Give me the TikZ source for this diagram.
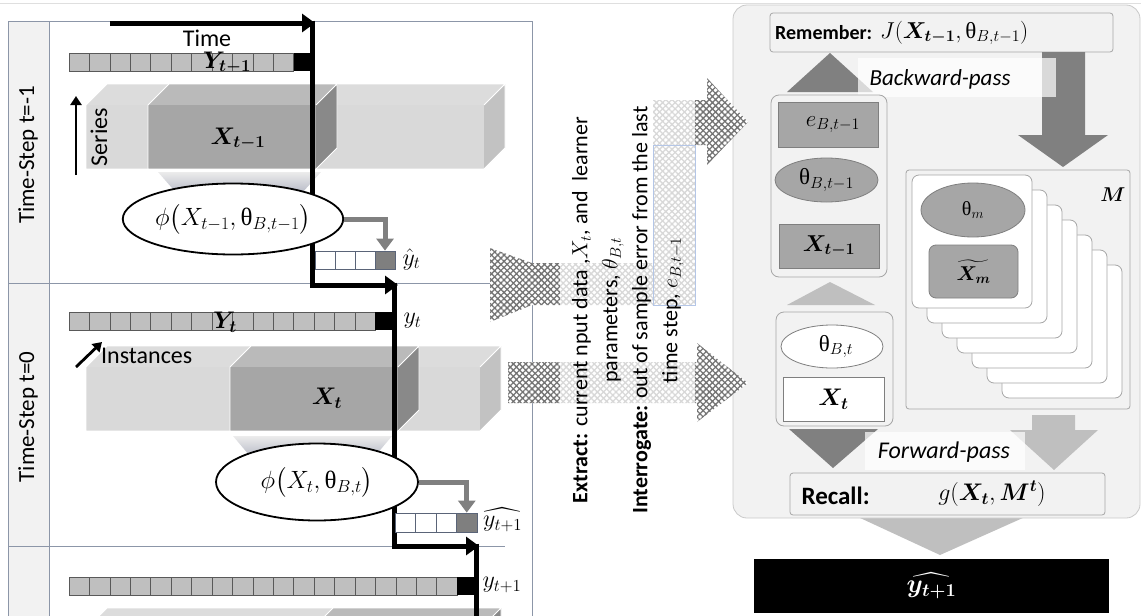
\RequirePackage{fix-cm}
\documentclass[tikz,border=0pt]{standalone}
\usepackage{amsmath,bm}
\usepackage{fontspec}
\setmainfont{Carlito}
\newfontfamily\grkfont{Liberation Serif}
\usetikzlibrary{arrows.meta,shapes.geometric,patterns.meta}

\definecolor{framec}{HTML}{8C96A8}
\definecolor{labelcol}{HTML}{F2F2F2}
\definecolor{cellg}{HTML}{BFBFBF}
\definecolor{cellb}{HTML}{595959}
\definecolor{hatcell}{HTML}{7F7F7F}
\definecolor{hatb}{HTML}{5A6478}
\definecolor{lfront}{HTML}{D9D9D9}
\definecolor{ltop}{HTML}{DCDCDC}
\definecolor{lside}{HTML}{C2C2C2}
\definecolor{dfront}{HTML}{A6A6A6}
\definecolor{dtop}{HTML}{BABABA}
\definecolor{dside}{HTML}{898989}
\definecolor{arrg}{HTML}{808080}
\definecolor{lightarr}{HTML}{BFBFBF}
\definecolor{panelf}{HTML}{F2F2F2}
\definecolor{panelb}{HTML}{C9C9C9}
\definecolor{boxb}{HTML}{A6A6A6}
\definecolor{itemf}{HTML}{A6A6A6}
\definecolor{itemb}{HTML}{7F7F7F}
\definecolor{hatchc}{HTML}{747474}
\definecolor{bluebord}{HTML}{B4C6E7}
\definecolor{shadebot}{HTML}{9A9FB2}

% upright theta as in the formulas
\newcommand{\thup}{\text{\grkfont θ}}
% font size shorthand
\newcommand{\setfs}[1]{\fontsize{#1}{#1}\selectfont}

% a long prism: x1, x2, ytop, ybot, front colour, top colour, side colour
\newcommand{\drawprism}[7]{%
  \fill[#6] (#1,#3) -- (#1+21,#3-21) -- (#2+21,#3-21) -- (#2,#3) -- cycle;
  \fill[#7] (#2,#3) -- (#2+21,#3-21) -- (#2+21,#4-21) -- (#2,#4) -- cycle;
  \fill[#5] (#1,#3) rectangle (#2,#4);
  \draw[white, line width=0.8pt, line join=round]
    (#1,#4) -- (#1,#3) -- (#1+21,#3-21) -- (#2+21,#3-21) -- (#2+21,#4-21) -- (#2,#4) -- cycle
    (#2,#3) -- (#2+21,#3-21);
}

% a series bar: x0, ytop, number of grey cells, end of the black cell
\newcommand{\seriesbar}[4]{%
  \foreach \i in {1,...,#3}
    \draw[ycell] ({#1+(\i-1)*20.43},#2) rectangle ++(20.43,18);
  \fill[black] ({#1+#3*20.43},#2) rectangle (#4,#2+18);
}

\tikzset{
  ycell/.style={draw=cellb, fill=cellg, line width=0.6pt},
  predcell/.style={draw=hatb, fill=white, line width=0.6pt},
  timeline/.style={line width=5pt, line join=miter, -{Triangle[length=13pt,width=18pt]}},
  garrow/.style={draw=arrg, line width=5pt, -{Triangle[length=12pt,width=17pt]}},
  thinarrow/.style={line width=2.8pt, -{Triangle[length=9pt,width=11pt]}},
  phiell/.style={ellipse, draw=black, line width=1.8pt, fill=white, inner sep=0pt, font=\setfs{25}},
  hatchfill/.style={preaction={fill=white},
    pattern={Hatch[angle=45,distance=4.4pt,line width=1.3pt]}, pattern color=hatchc},
  pbox/.style={draw=boxb, fill=panelf, line width=0.8pt, rounded corners=3pt},
  container/.style={draw=boxb, fill=panelf, line width=0.8pt, rounded corners=8pt},
  itembox/.style={draw=itemb, fill=itemf, line width=0.8pt, font=\setfs{23}},
  itemell/.style={ellipse, draw=itemb, fill=itemf, line width=0.8pt, inner sep=0pt, font=\setfs{23}},
  card/.style={draw=boxb, fill=white, line width=0.8pt, rounded corners=7pt},
  passlabel/.style={fill=white, fill opacity=0.7},
  passtext/.style={font=\setfs{23}\itshape},
  leftmath/.style={font=\setfs{24}},
  lefttext/.style={font=\setfs{24}},
}

\begin{document}
\begin{tikzpicture}[x=1pt, y=-1pt, font=\setfs{20}]
\useasboundingbox (0,0) rectangle (1141,616);
\begin{scope}
\clip (0,0) rectangle (1141,616);

% page rule
\draw[gray!25, line width=0.8pt] (0,3) -- (1141,3);

% ---------------- left panel: time steps ----------------
\fill[labelcol] (8,21) rectangle (49,620);
\draw[framec, line width=0.8pt] (8,620) -- (8,21) -- (532,21) -- (532,620);
\draw[framec, line width=0.8pt] (49,21) -- (49,620);
\draw[framec, line width=0.8pt] (8,283) -- (532,283);
\draw[framec, line width=0.8pt] (8,546) -- (505,546);

\node[rotate=90, font=\setfs{23}] (lab1) at (28,155) {Time-Step t=-1};
\node[rotate=90, font=\setfs{23}] (lab0) at (28,417) {Time-Step t=0};

% row t-1
\node[lefttext] (timelab) at (207,38) {Time};
\seriesbar{69}{53}{11}{313}
\node[leftmath] (Ytm1) at (227,63) {$\bm{Y}_{\bm{t-1}}$};
\drawprism{86}{484}{105}{169}{lfront}{ltop}{lside}
\drawprism{148}{316}{105}{169}{dfront}{dtop}{dside}
\node[leftmath] (Xtm1) at (238,139) {$\bm{X}_{\bm{t-1}}$};
\coordinate (serA) at (76,175);
\coordinate (serB) at (76,96);
\draw[thinarrow] (serA) -- (serB);
\node[rotate=90, lefttext] (serlab) at (99,137) {Series};
\shade[top color=gray!15, bottom color=shadebot] (158,172) -- (321,172) -- (292,204) -- (186,204) -- cycle;

% row t
\seriesbar{69}{312}{15}{394}
\node[leftmath] (Yt) at (225,322) {$\bm{Y}_{\bm{t}}$};
\node[anchor=west, leftmath] (ytl) at (400,321) {$y_t$};
\drawprism{86}{480}{367}{431}{lfront}{ltop}{lside}
\drawprism{230}{398}{367}{431}{dfront}{dtop}{dside}
\node[leftmath] (Xt) at (327,398) {$\bm{X}_{\bm{t}}$};
\coordinate (insA) at (76,367);
\coordinate (insB) at (102,342);
\draw[thinarrow] (insA) -- (insB);
\node[anchor=west, inner sep=0pt, lefttext] (inslab) at (101,356) {Instances};
\shade[top color=gray!15, bottom color=shadebot] (233,436) -- (392,436) -- (365,468) -- (260,468) -- cycle;

% row t+1
\seriesbar{69}{577}{19}{478}
\node[anchor=west, leftmath] (yt1l) at (479,585) {$y_{t+1}$};
\drawprism{86}{480}{629}{693}{lfront}{ltop}{lside}
\drawprism{312}{480}{629}{693}{dfront}{dtop}{dside}

% the time staircase
\coordinate (s0) at (110,23);
\coordinate (s1) at (315,23);
\coordinate (s2) at (312.5,20.5);
\coordinate (s3) at (312.5,285);
\coordinate (s4) at (398,285);
\coordinate (s5) at (394,282.5);
\coordinate (s6) at (394,546);
\coordinate (s7) at (479,546);
\coordinate (s8) at (476.5,543.5);
\coordinate (s9) at (476.5,625);
\draw[timeline] (s0) -- (s1);
\draw[timeline] (s2) -- (s3) -- (s4);
\draw[timeline] (s5) -- (s6) -- (s7);
\draw[line width=5pt] (s8) -- (s9);

% learners and their predictions
\node[phiell, minimum width=200pt, minimum height=71pt] (phiA) at (233,219)
  {$\phi\bigl(X_{t-1},\thup_{B,t-1}\bigr)$};
\foreach \i in {0,1,2} \draw[predcell] (315+\i*20,251) rectangle ++(20,18);
\node[draw=hatb, fill=hatcell, line width=0.8pt, minimum width=20pt, minimum height=18pt, inner sep=0pt] (hatA) at (385,260) {};
\node[anchor=west, leftmath] (yhatA) at (399,259) {$\hat{y}_t$};
\draw[garrow] (phiA.east) -| (hatA.north);

\node[phiell, minimum width=202pt, minimum height=77pt] (phiB) at (317,482)
  {$\phi\bigl(X_{t},\thup_{B,t}\bigr)$};
\foreach \i in {0,1,2} \draw[predcell] (395+\i*20.5,513) rectangle ++(20.5,19);
\node[draw=hatb, fill=hatcell, line width=0.8pt, minimum width=20.5pt, minimum height=19pt, inner sep=0pt] (hatB) at (466.75,522.5) {};
\node[anchor=west, leftmath, inner sep=1pt] (yhatB) at (482,520) {$\widehat{y_{t+1}}$};
\draw[garrow] (phiB.east) -| (hatB.north);

% ---------------- right panel: memory ----------------
\fill[lightarr] (858,517) -- (1025,517) -- (940,555) -- cycle;
\node[draw=panelb, fill=panelf, line width=0.8pt, rounded corners=14pt,
      minimum width=407pt, minimum height=513pt] (panel) at (936.5,261.5) {};

\node[pbox, minimum width=343pt, minimum height=39pt] (rem) at (941.5,32.5) {};
\node[anchor=west, inner sep=0pt, font=\setfs{20}] (remtxt) at (775,33) {\textbf{Remember:}};
\node[anchor=west, inner sep=0pt, font=\setfs{23}] (remmath) at (880,33) {$J(\bm{X}_{\bm{t-1}},\thup_{B,t-1})$};

% backward pass arrows
\fill[arrg] (787,92) -- (873,92) -- (830,53) -- cycle;
\fill[arrg] (1042,52) -- (1085,52) -- (1085,135) -- (1108,135) -- (1063,167)
  -- (1018,135) -- (1042,135) -- cycle;
\node[passlabel, minimum width=198pt, minimum height=39pt] (bwd) at (957,77.5) {};
\node[passtext] (bwdtxt) at (940,79) {Backward-pass};

% previous step contents
\node[container, minimum width=116pt, minimum height=182pt] (prev) at (829,186) {};
\node[itembox, minimum width=100pt, minimum height=45pt] (ebox) at (828,124.5) {\hspace{10pt}$e_{B,t-1}$};
\node[itemell, minimum width=103pt, minimum height=44pt] (thprev) at (826.5,180) {$\thup_{B,t-1}$};
\node[itembox, minimum width=100pt, minimum height=44pt] (xprev) at (829,246) {$\bm{X}_{\bm{t-1}}$};

\fill[lightarr] (787,305) -- (875,305) -- (830,282) -- cycle;

% current step contents
\node[container, minimum width=117pt, minimum height=114pt] (curr) at (834.5,369) {};
\node[ellipse, draw=itemb, fill=white, line width=0.8pt, inner sep=0pt, font=\setfs{23},
      minimum width=102pt, minimum height=43pt] (thcur) at (832,346.5) {\hspace{8pt}$\thup_{B,t}$};
\node[draw=itemb, fill=white, line width=0.8pt, minimum width=101pt, minimum height=44pt, font=\setfs{24}] (xcur) at (833.5,399) {$\bm{X}_{\bm{t}}$};

% memory of past learners
\node[pbox, minimum width=224pt, minimum height=239pt] (mem) at (1018,289.5) {};
\node (Mlab) at (1113,195) {$\bm{M}$};
\foreach \i in {6,5,...,1}
  \draw[card] (912+15*\i,175+15*\i) rectangle ++(120,133);
\node[card, minimum width=120pt, minimum height=133pt] (card0) at (972,241.5) {};
\node[itemell, minimum width=104pt, minimum height=54pt, font=\setfs{20}] (thm) at (973,210) {$\thup_{m}$};
\node[itembox, rounded corners=7pt, minimum width=89pt, minimum height=53pt, font=\setfs{20}] (xm) at (973.5,271.5)
  {$\widetilde{\bm{X}_{\bm{m}}}$};

% forward pass arrows
\fill[arrg] (789,429) -- (878,429) -- (833,468) -- cycle;
\fill[lightarr] (1032,415) -- (1075,415) -- (1075,430) -- (1098,430) -- (1054,470)
  -- (1010,430) -- (1032,430) -- cycle;
\node[passlabel, minimum width=160pt, minimum height=38pt] (fwd) at (945,451) {};
\node[passtext, font=\setfs{24}\itshape] (fwdtxt) at (944,452) {Forward-pass};

\node[pbox, minimum width=315pt, minimum height=42pt] (recall) at (947.5,494) {};
\node[anchor=west, font=\setfs{25}] (rectxt) at (798,496) {\textbf{Recall:}};
\node[font=\setfs{24}] (recmath) at (992,494) {$g(\bm{X}_{\bm{t}},\bm{M}^{\bm{t}})$};

\node[fill=black, minimum width=355pt, minimum height=54pt, text=white, font=\setfs{26}] (out) at (931.5,586)
  {$\boldsymbol{\widehat{y_{t+1}}}$};

% ---------------- extract / interrogate arrows ----------------
\fill[hatchfill] (490,248) -- (532,263) -- (653,263) -- (653,100) -- (707,100) -- (707,78)
  -- (748,122) -- (707,165) -- (707,145) -- (695,145) -- (695,305) -- (532,305)
  -- (490,322) -- cycle;
\fill[hatchfill] (508,362) -- (697,362) -- (697,343) -- (748,383) -- (697,422)
  -- (697,403) -- (508,403) -- cycle;
\fill[white, opacity=0.72] (560,90) rectangle (695,440);
\draw[bluebord, line width=0.8pt] (653,145) rectangle (695,305);

\node[rotate=90, align=center, font=\fontsize{22}{30}\selectfont] (exlab) at (628,310)
  {\textbf{Extract:} current nput data ,$X_t$, and~ learner\\
   parameters, $\theta_{B,t}$\\
   \textbf{Interrogate:} out of sample error from the last\\
   time step, $e_{B,t-1}$};
\end{scope}
\end{tikzpicture}
\end{document}
